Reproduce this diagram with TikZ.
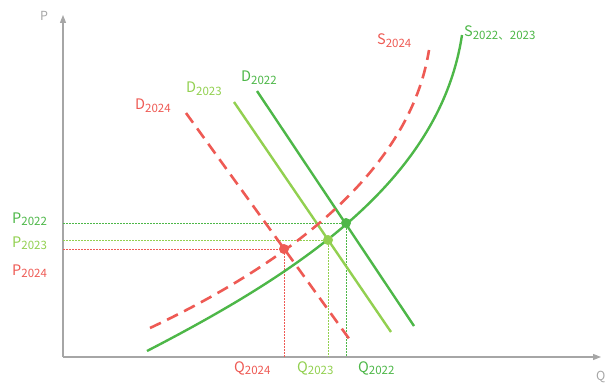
\documentclass[tikz,border=0pt]{standalone}
\usepackage{fontspec}
\setmainfont{Noto Sans CJK SC}
\usepackage{xcolor}
\usepackage{tikz}
\usetikzlibrary{arrows.meta, positioning}

\definecolor{dgreen}{RGB}{77,183,72}
\definecolor{lgreen}{RGB}{146,208,80}
\definecolor{sred}{RGB}{238,90,84}
\definecolor{axgray}{RGB}{166,166,166}

% label with year as subscript
\newcommand{\yr}[2]{#1\raisebox{-0.3ex}{\fontsize{11.5}{11.5}\selectfont #2}}

\begin{document}
\begin{tikzpicture}[x=1pt, y=-1pt, font=\fontsize{14.5}{14.5}\selectfont,
    axis/.style={axgray, line width=1.1pt, -{Triangle[length=8pt, width=6pt]}},
    curve/.style={line width=2.4pt},
    dashcurve/.style={line width=2.6pt, dash pattern=on 12pt off 7pt},
    guide/.style={line width=0.5pt, dash pattern=on 1.5pt off 1.5pt},
    eqdot/.style={circle, inner sep=0pt, minimum size=10pt},
    lab/.style={inner sep=0pt, anchor=base west}]
  \useasboundingbox (0,0) rectangle (607,385);

  % axes
  \coordinate (o) at (63,357);
  \coordinate (ytop) at (63,15);
  \coordinate (xend) at (601,357);
  \draw[axis] (o) -- (ytop);
  \draw[axis] (o) -- (xend);
  \node[lab, text=axgray, font=\fontsize{12.5}{12.5}\selectfont] (plab) at (40,21) {P};
  \node[lab, text=axgray, font=\fontsize{12.5}{12.5}\selectfont] (qlab) at (596,380) {Q};

  % equilibrium points
  \coordinate (E22) at (346,223);
  \coordinate (E23) at (328,240);
  \coordinate (E24) at (284,249);

  % guide lines
  \draw[guide, dgreen] (o |- E22) -- (E22) -- (E22 |- o);
  \draw[guide, lgreen] (o |- E23) -- (E23) -- (E23 |- o);
  \draw[guide, sred] (o |- E24) -- (E24) -- (E24 |- o);

  % demand
  \coordinate (d22a) at (257,91);
  \coordinate (d22b) at (414,326);
  \coordinate (d23a) at (234,102);
  \coordinate (d23b) at (391,332);
  \coordinate (d24a) at (186,113);
  \coordinate (d24b) at (350,340);
  \draw[curve, dgreen] (d22a) -- (d22b);
  \draw[curve, lgreen] (d23a) -- (d23b);
  \draw[dashcurve, sred] (d24a) -- (d24b);

  % supply
  \coordinate (s22a) at (147,351);
  \coordinate (s22b) at (462,35);
  \coordinate (s24a) at (150,328);
  \coordinate (s24b) at (429,50);
  \draw[curve, dgreen] (s22a) .. controls (300,272) and (440,180) .. (s22b);
  \draw[dashcurve, sred] (s24a) .. controls (290,262) and (410,170) .. (s24b);

  \node[eqdot, fill=dgreen] (e22) at (E22) {};
  \node[eqdot, fill=lgreen] (e23) at (E23) {};
  \node[eqdot, fill=sred] (e24) at (E24) {};

  % labels
  \node[lab, text=dgreen] (p22) at (12,223) {\yr{P}{2022}};
  \node[lab, text=lgreen] (p23) at (12,247) {\yr{P}{2023}};
  \node[lab, text=sred] (p24) at (12,275) {\yr{P}{2024}};
  \node[lab, text=sred] (q24) at (234,372) {\yr{Q}{2024}};
  \node[lab, text=lgreen] (q23) at (297,372) {\yr{Q}{2023}};
  \node[lab, text=dgreen] (q22) at (358,372) {\yr{Q}{2022}};
  \node[lab, text=sred] (dl24) at (135,110) {\yr{D}{2024}};
  \node[lab, text=lgreen] (dl23) at (186,93) {\yr{D}{2023}};
  \node[lab, text=dgreen] (dl22) at (241,82) {\yr{D}{2022}};
  \node[lab, text=sred] (sl24) at (377,45) {\yr{S}{2024}};
  \node[lab, text=dgreen] (sl22) at (464,37) {\yr{S}{2022、2023}};
\end{tikzpicture}
\end{document}
